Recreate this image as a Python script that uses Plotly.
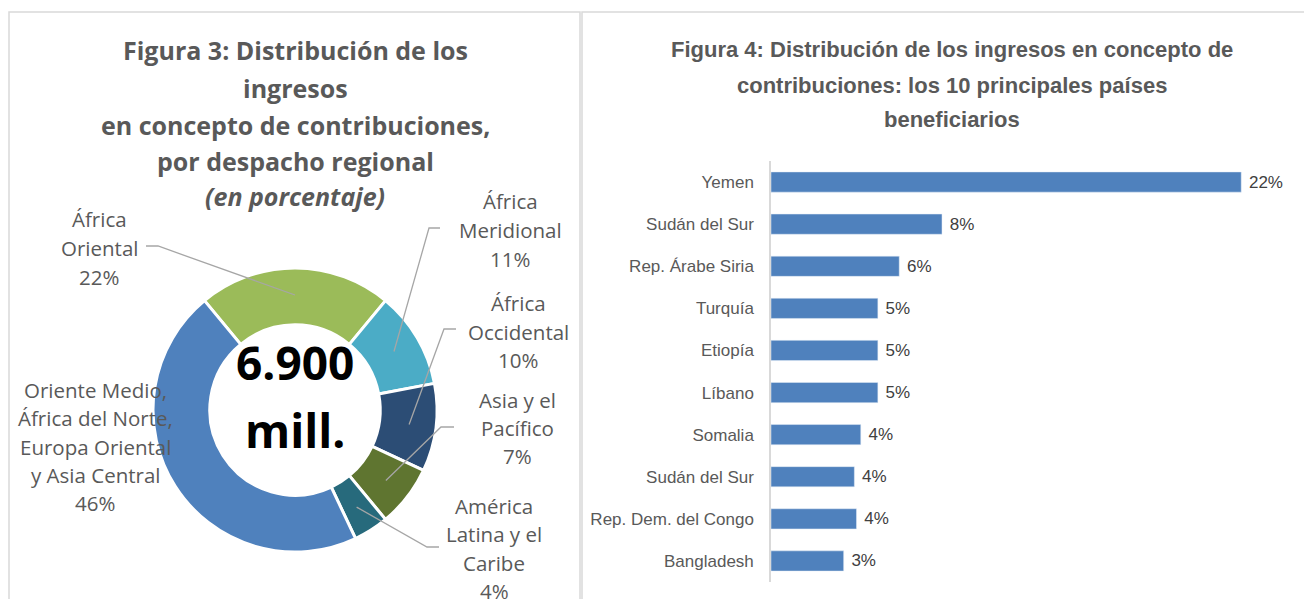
import math
import plotly.graph_objects as go

W, H = 1312, 599
OFF = 8  # page body margin

# Figura 3: ingresos por despacho regional (%)
regiones = ["África Oriental", "África Meridional", "África Occidental",
            "Asia y el Pacífico", "América Latina y el Caribe",
            "Oriente Medio, África del Norte, Europa Oriental y Asia Central"]
porcentajes = [22, 11, 10, 7, 4, 46]
colores_region = ["#9BBB59", "#4BACC6", "#2C4D75", "#5F7530", "#276A7C", "#4F81BD"]
lineas_region = [["África", "Oriental"], ["África", "Meridional"], ["África", "Occidental"],
                 ["Asia y el", "Pacífico"], ["América", "Latina y el", "Caribe"],
                 ["Oriente Medio,", "África del Norte,", "Europa Oriental", "y Asia Central"]]
total_texto = ["6.900", "mill."]

# Figura 4: los 10 principales países beneficiarios (%)
paises = ["Yemen", "Sudán del Sur", "Rep. Árabe Siria", "Turquía", "Etiopía",
          "Líbano", "Somalia", "Sudán del Sur", "Rep. Dem. del Congo", "Bangladesh"]
valores = [22, 8, 6, 5, 5, 5, 4.2, 3.9, 4.0, 3.4]
etiquetas = ["22%", "8%", "6%", "5%", "5%", "5%", "4%", "4%", "4%", "3%"]

titulo3 = ["Figura 3: Distribución de los", "ingresos", "en concepto de contribuciones,",
           "por despacho regional", "<i>(en porcentaje)</i>"]
titulo4 = ["Figura 4: Distribución de los ingresos en concepto de",
           "contribuciones: los 10 principales países", "beneficiarios"]

GRIS = "#595959"
SANS = "Open Sans, Noto Sans, sans-serif"
NARROW = "Liberation Sans Narrow, Arial Narrow, Liberation Sans, sans-serif"


def px(x):
    return (x - OFF) / (W - OFF)


def py(y):
    return 1 - (y - OFF) / (H - OFF)


# donut geometry (page pixels)
cx, cy, r_out = 295, 410, 142
rotacion = -porcentajes[0] / 100 * 360 / 2

fig = go.Figure()

fig.add_trace(
    go.Pie(
        values=porcentajes,
        labels=regiones,
        sort=False,
        direction="clockwise",
        rotation=rotacion,
        hole=0.6,
        marker=dict(colors=colores_region, line=dict(color="white", width=3)),
        textinfo="none",
        hoverinfo="label+percent",
        showlegend=False,
        domain=dict(x=[px(cx - r_out), px(cx + r_out)], y=[py(cy + r_out), py(cy - r_out)]),
    )
)

fig.add_trace(
    go.Bar(
        x=valores,
        y=list(range(len(paises))),
        orientation="h",
        width=0.48,
        marker=dict(color="#4F81BD"),
        text=["\u00a0" + t for t in etiquetas],
        textposition="outside",
        textfont=dict(family=NARROW, size=17, color="#404040"),
        cliponaxis=False,
        showlegend=False,
        hovertemplate="%{customdata}: %{text}<extra></extra>",
        customdata=paises,
    )
)

annotations = []
shapes = []

# panel borders
for x0, x1 in [(9, 580), (582, W + 20)]:
    shapes.append(dict(type="rect", xref="paper", yref="paper",
                       x0=px(x0), x1=px(x1), y0=-0.2, y1=py(12),
                       line=dict(color="#D9D9D9", width=1.5)))

# titles
for linea, yl in zip(titulo3, [50, 88, 125, 161, 196]):
    annotations.append(dict(x=px(295), y=py(yl), xref="paper", yref="paper",
                            text=f"<b>{linea}</b>", showarrow=False,
                            xanchor="center", yanchor="middle",
                            font=dict(family=SANS, size=25, color=GRIS)))
for linea, yl in zip(titulo4, [50, 86, 119]):
    annotations.append(dict(x=px(952), y=py(yl), xref="paper", yref="paper",
                            text=f"<b>{linea}</b>", showarrow=False,
                            xanchor="center", yanchor="middle",
                            font=dict(family=NARROW, size=22, color=GRIS)))

# centre total
for linea, yl in zip(total_texto, [362, 430]):
    annotations.append(dict(x=px(cx), y=py(yl), xref="paper", yref="paper",
                            text=f"<b>{linea}</b>", showarrow=False,
                            xanchor="center", yanchor="middle",
                            font=dict(family=SANS, size=46, color="black")))

# donut labels: (centre x, first line y, line step), leader (start, elbow)
pos_etiqueta = [(99, 219, 29), (510, 201, 29), (518, 303, 28.5),
                (517, 400, 28), (494, 506, 28.3), (95, 390, 28.3)]
guias = [((146, 246), (158, 246)), ((440, 228), (429, 228)), ((456, 329), (444, 329)),
         ((454, 427), (441, 427)), ((439, 547), (427, 547)), None]

acumulado = 0
for v, lineas, (lx, ly, paso), guia in zip(porcentajes, lineas_region, pos_etiqueta, guias):
    for k, linea in enumerate(lineas + [f"{v}%"]):
        annotations.append(dict(x=px(lx), y=py(ly + k * paso), xref="paper", yref="paper",
                                text=linea, showarrow=False,
                                xanchor="center", yanchor="middle",
                                font=dict(family=SANS, size=20.5, color=GRIS)))
    medio = math.radians(rotacion + (acumulado + v / 2) / 100 * 360)
    acumulado += v
    if guia is None:
        continue
    ex = cx + 115 * math.sin(medio)
    ey = cy - 115 * math.cos(medio)
    (sx, sy), (bx, by) = guia
    shapes.append(dict(type="path", xref="paper", yref="paper",
                       path=f"M {px(sx)},{py(sy)} L {px(bx)},{py(by)} L {px(ex)},{py(ey)}",
                       line=dict(color="#A6A6A6", width=1.3)))

fig.update_layout(
    width=W - OFF,
    height=H - OFF,
    margin=dict(l=0, r=0, t=0, b=0),
    plot_bgcolor="white",
    paper_bgcolor="white",
    annotations=annotations,
    shapes=shapes,
)

fig.update_xaxes(
    domain=[px(771), px(1300)],
    range=[0, 24.75],
    visible=False,
)

fig.update_yaxes(
    domain=[py(582), py(161)],
    range=[len(paises) - 0.5, -0.5],
    tickmode="array",
    tickvals=list(range(len(paises))),
    ticktext=paises,
    tickfont=dict(family=NARROW, size=17, color=GRIS),
    ticks="",
    ticklabelstandoff=12,
    showline=True,
    linecolor="#D9D9D9",
    linewidth=1.5,
    showgrid=False,
    zeroline=False,
)

fig.write_html("out.html")
